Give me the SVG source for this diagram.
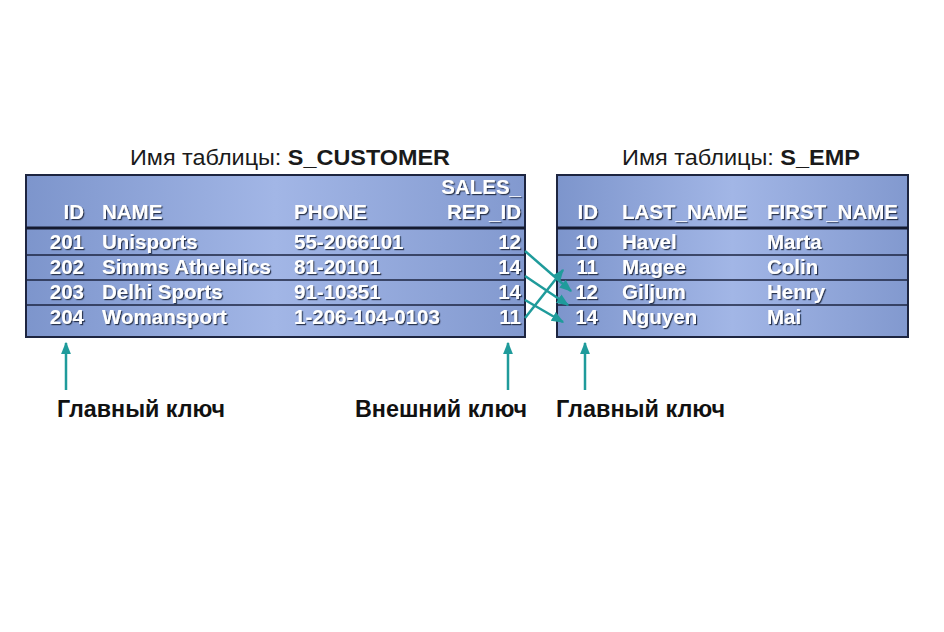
<svg xmlns="http://www.w3.org/2000/svg" width="944" height="632" viewBox="0 0 944 632">
<defs>
<linearGradient id="tg" x1="0" y1="0" x2="1" y2="0">
<stop offset="0" stop-color="#7d95cc"/>
<stop offset="0.5" stop-color="#a2b6e6"/>
<stop offset="1" stop-color="#8299cf"/>
</linearGradient>
<filter id="sh" x="-5%" y="-20%" width="110%" height="150%">
<feDropShadow dx="1.2" dy="1.2" stdDeviation="0.4" flood-color="#1c2540" flood-opacity="0.9"/>
</filter>
<marker id="ah" viewBox="0 0 10 10" refX="9" refY="5" markerWidth="5" markerHeight="5" orient="auto-start-reverse">
<path d="M0,1 L10,5 L0,9 Z" fill="#1f9b9b"/>
</marker>
</defs>
<style>
.tbl{fill:url(#tg);stroke:#1d2540;stroke-width:2}
.sep{stroke:#1d2540;stroke-width:1.5}
.hsep{stroke:#141a30;stroke-width:3}
.cell{font-family:"Liberation Sans",Arial,sans-serif;font-weight:bold;font-size:20.5px;fill:#ffffff;filter:url(#sh)}
.r{text-anchor:end}
.title{font-family:"Liberation Sans",Arial,sans-serif;font-size:22px;fill:#1a1a1a}
.title tspan.b{font-weight:bold}
.lbl{font-family:"Liberation Sans",Arial,sans-serif;font-weight:bold;font-size:24px;fill:#111111}
.con{stroke:#1f9b9b;stroke-width:2.5;fill:none}
</style>
<rect width="944" height="632" fill="#ffffff"/>

<g id="title-customer"><text class="title" x="130" y="165" textLength="320" lengthAdjust="spacingAndGlyphs">Имя таблицы: <tspan class="b">S_CUSTOMER</tspan></text></g>
<g id="title-emp"><text class="title" x="622" y="165" textLength="238" lengthAdjust="spacingAndGlyphs">Имя таблицы: <tspan class="b">S_EMP</tspan></text></g>

<g id="table-customer">
<rect class="tbl" x="26" y="175" width="499" height="162"/>
<line class="hsep" x1="26" y1="228" x2="525" y2="228"/>
<line class="sep" x1="26" y1="255" x2="525" y2="255"/>
<line class="sep" x1="26" y1="280" x2="525" y2="280"/>
<line class="sep" x1="26" y1="305" x2="525" y2="305"/>
<text class="cell r" x="521" y="194">SALES_</text>
<text class="cell r" x="84" y="219">ID</text>
<text class="cell" x="102" y="219">NAME</text>
<text class="cell" x="294" y="219">PHONE</text>
<text class="cell r" x="521" y="219">REP_ID</text>
<text class="cell r" x="84" y="249">201</text><text class="cell" x="102" y="249">Unisports</text><text class="cell" x="294" y="249">55-2066101</text><text class="cell r" x="521" y="249">12</text>
<text class="cell r" x="84" y="274">202</text><text class="cell" x="102" y="274">Simms Athelelics</text><text class="cell" x="294" y="274">81-20101</text><text class="cell r" x="521" y="274">14</text>
<text class="cell r" x="84" y="299">203</text><text class="cell" x="102" y="299">Delhi Sports</text><text class="cell" x="294" y="299">91-10351</text><text class="cell r" x="521" y="299">14</text>
<text class="cell r" x="84" y="324">204</text><text class="cell" x="102" y="324">Womansport</text><text class="cell" x="294" y="324">1-206-104-0103</text><text class="cell r" x="521" y="324">11</text>
</g>

<g id="table-emp">
<rect class="tbl" x="557" y="175" width="351" height="162"/>
<line class="hsep" x1="557" y1="228" x2="908" y2="228"/>
<line class="sep" x1="557" y1="255" x2="908" y2="255"/>
<line class="sep" x1="557" y1="280" x2="908" y2="280"/>
<line class="sep" x1="557" y1="305" x2="908" y2="305"/>
<text class="cell r" x="598" y="219">ID</text>
<text class="cell" x="622" y="219">LAST_NAME</text>
<text class="cell" x="767" y="219">FIRST_NAME</text>
<text class="cell r" x="598" y="249">10</text><text class="cell" x="622" y="249">Havel</text><text class="cell" x="767" y="249">Marta</text>
<text class="cell r" x="598" y="274">11</text><text class="cell" x="622" y="274">Magee</text><text class="cell" x="767" y="274">Colin</text>
<text class="cell r" x="598" y="299">12</text><text class="cell" x="622" y="299">Giljum</text><text class="cell" x="767" y="299">Henry</text>
<text class="cell r" x="598" y="324">14</text><text class="cell" x="622" y="324">Nguyen</text><text class="cell" x="767" y="324">Mai</text>
</g>

<g id="label-pk1"><text class="lbl" x="57" y="417" textLength="168" lengthAdjust="spacingAndGlyphs">Главный ключ</text></g>
<g id="label-fk"><text class="lbl" x="355" y="417" textLength="172" lengthAdjust="spacingAndGlyphs">Внешний ключ</text></g>
<g id="label-pk2"><text class="lbl" x="556" y="417" textLength="169" lengthAdjust="spacingAndGlyphs">Главный ключ</text></g>

<g id="connectors">
<line class="con" x1="66" y1="390" x2="66" y2="343" marker-end="url(#ah)"/>
<line class="con" x1="508" y1="390" x2="508" y2="343" marker-end="url(#ah)"/>
<line class="con" x1="585" y1="390" x2="585" y2="343" marker-end="url(#ah)"/>
<line class="con" x1="525" y1="251" x2="571" y2="291" marker-end="url(#ah)"/>
<line class="con" x1="525" y1="276" x2="568" y2="305" marker-end="url(#ah)"/>
<line class="con" x1="525" y1="300" x2="563" y2="322" marker-end="url(#ah)"/>
<line class="con" x1="525" y1="318" x2="563" y2="270" marker-end="url(#ah)"/>
</g>
</svg>
